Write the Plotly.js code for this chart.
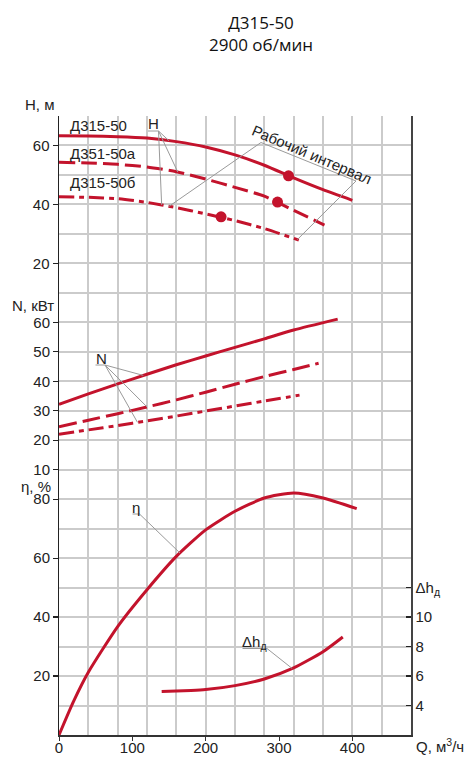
<!DOCTYPE html>
<html><head><meta charset="utf-8">
<script src="https://cdn.plot.ly/plotly-3.0.1.min.js"></script>
<style>html,body{margin:0;padding:0;background:#fff}#chart{width:472px;height:758px}</style>
</head><body><div id="chart"></div>
<script>
// ---------- DATA ----------
const curveNames = ['Д315-50', 'Д351-50а', 'Д315-50б'];

const qH1 = [0, 40, 80, 120, 160, 200, 240, 280, 320, 360, 400];
const headH1 = [63.3, 63.2, 63.0, 62.5, 61.3, 59.5, 56.8, 53.3, 49.0, 45.0, 41.4];
const qH2 = [0, 40, 80, 120, 160, 200, 240, 280, 320, 362];
const headH2 = [54.3, 54.05, 53.6, 52.7, 51.1, 48.6, 45.8, 42.8, 38.0, 33.0];
const qH3 = [0, 40, 80, 120, 160, 200, 240, 280, 327];
const headH3 = [42.6, 42.4, 41.95, 40.7, 38.9, 36.8, 34.5, 31.8, 27.9];

const nominalQ = [313, 298, 221];
const nominalH = [49.7, 40.8, 35.8];

const qN1 = [0, 40, 80, 120, 160, 200, 240, 280, 320, 380];
const powerN1 = [32.2, 35.7, 39.1, 42.4, 45.6, 48.6, 51.5, 54.4, 57.4, 61.1];
const qN2 = [0, 40, 80, 120, 160, 200, 240, 280, 320, 354];
const powerN2 = [24.6, 26.8, 29.0, 31.3, 33.7, 36.3, 39.0, 41.6, 44.0, 46.1];
const qN3 = [0, 40, 80, 120, 160, 200, 240, 280, 328];
const powerN3 = [22.0, 23.5, 25.0, 26.6, 28.2, 29.9, 31.6, 33.3, 35.3];

const qEta = [0, 20, 40, 80, 120, 160, 200, 240, 280, 320, 360, 406];
const eta = [0, 11.5, 21.3, 36.8, 49.3, 60.6, 69.6, 75.9, 80.4, 82.1, 80.4, 76.8];

const qDh = [140, 180, 200, 240, 280, 320, 360, 387];
const dh = [4.95, 5.02, 5.08, 5.35, 5.8, 6.55, 7.65, 8.65];

const xTicks = [0, 100, 200, 300, 400];
const hTicks = [20, 40, 60];
const nTicks = [10, 20, 30, 40, 50, 60];
const etaTicks = [20, 40, 60, 80];
const dhTicks = [4, 6, 8, 10, 12];
const dhTickText = ['4', '6', '8', '10', 'Δh<sub>д</sub>'];
const gridQ = [0, 40, 80, 120, 160, 200, 240, 280, 320, 360, 400, 440, 480];
const gridRows = [0, 1, 2, 3, 4, 5, 6, 7, 8, 9, 10, 11, 12, 13, 14, 15, 16, 17, 18, 19, 20, 21];

// ---------- LAYOUT GEOMETRY ----------
const L = 59, R = 411, T = 116, B = 735;
const W = R - L, HH = B - T;
const xRange = [0, 480];
const gridRange = [0, 21];
const hRange = [-140, 70];
const nRange = [-80, 130];
const etaRange = [0, 210];
const dhRange = [2, 44];

const red = '#c3132c';
const gridColor = '#cbcbcb';
const leaderColor = '#9a9a9a';
const FONT = '"Liberation Sans", Arial, sans-serif';

const fx = px => (px - L) / W;
const fy = py => (B - py) / HH;
const qP = q => (q - xRange[0]) / (xRange[1] - xRange[0]);
const vP = (v, r) => (v - r[0]) / (r[1] - r[0]);
function interp(q, xs, ys) {
  for (let i = 0; i < xs.length - 1; i++) {
    if (q >= xs[i] && q <= xs[i + 1]) {
      const t = (q - xs[i]) / (xs[i + 1] - xs[i]);
      return ys[i] + t * (ys[i + 1] - ys[i]);
    }
  }
  return ys[ys.length - 1];
}

const dashA = '16px,6px';
const dashB = '15px,5px,5px,5px';

function line(x, y, yaxis, dash) {
  return {x, y, yaxis, xaxis: 'x', type: 'scatter', mode: 'lines',
    line: {color: red, width: 3, shape: 'spline', smoothing: 0.6, dash: dash || 'solid'},
    hoverinfo: 'skip', showlegend: false};
}
function ghost(xa, ya, xs, ys) {
  return {x: xs, y: ys, xaxis: xa, yaxis: ya, type: 'scatter', mode: 'markers',
    marker: {size: 1, opacity: 0}, hoverinfo: 'skip', showlegend: false};
}

const traces = [
  ghost('x', 'y', xRange, gridRange),
  ghost('x2', 'y', xRange, gridRange),
  line(qH1, headH1, 'y2'),
  line(qH2, headH2, 'y2', dashA),
  line(qH3, headH3, 'y2', dashB),
  {x: nominalQ, y: nominalH, xaxis: 'x', yaxis: 'y2', type: 'scatter', mode: 'markers',
    marker: {color: red, size: 11}, hoverinfo: 'skip', showlegend: false},
  line(qN1, powerN1, 'y3'),
  line(qN2, powerN2, 'y3', '18px,6px'),
  line(qN3, powerN3, 'y3', dashB),
  line(qEta, eta, 'y4'),
  line(qDh, dh, 'y5')
];

// ---------- ANNOTATIONS ----------
function txt(text, px, py, opts) {
  return Object.assign({text, x: fx(px), y: fy(py), xref: 'paper', yref: 'paper',
    showarrow: false, xanchor: 'center', yanchor: 'middle',
    font: {family: FONT, size: 15, color: '#222'}}, opts || {});
}
const annotations = [
  txt('H, м', 39, 105),
  txt('N, кВт', 33, 305),
  txt('η, %', 36, 486),
  txt('Q, м<sup>3</sup>/ч', 440, 745),
  txt(curveNames[0], 68, 125, {xanchor: 'left'}),
  txt(curveNames[1], 68, 153, {xanchor: 'left'}),
  txt(curveNames[2], 68, 183, {xanchor: 'left'}),
  txt('H', 153, 123),
  txt('N', 101, 358),
  txt('η', 136, 507),
  txt('Δh<sub>д</sub>', 255, 642),
  txt('Рабочий интервал', 312, 154, {textangle: 23})
];

// ---------- SHAPES (leaders, underlines, bracket) ----------
function seg(x0, y0, x1, y1) {
  return {type: 'line', xref: 'paper', yref: 'paper', x0, y0, x1, y1,
    line: {color: leaderColor, width: 1}};
}
function leader(px, py, q, xs, ys, r) {
  return seg(fx(px), fy(py), qP(q), vP(interp(q, xs, ys), r));
}
const shapes = [
  seg(fx(148), fy(131), fx(158.5), fy(131)),
  leader(158.5, 131, 150, qH1, headH1, hRange),
  leader(158.5, 131, 162, qH2, headH2, hRange),
  leader(158.5, 131, 140, qH3, headH3, hRange),
  seg(fx(95.5), fy(365), fx(105), fy(365)),
  leader(105, 365, 115, qN1, powerN1, nRange),
  leader(105, 365, 120, qN2, powerN2, nRange),
  leader(105, 365, 107, qN3, powerN3, nRange),
  seg(fx(132.5), fy(514), fx(139.5), fy(514)),
  leader(139.5, 514, 165, qEta, eta, etaRange),
  seg(fx(242.5), fy(648.5), fx(267), fy(648.5)),
  leader(267, 648.5, 318, qDh, dh, dhRange),
  seg(fx(261), fy(142.5), fx(356), fy(181)),
  leader(261, 142.5, 150, qH3, headH3, hRange),
  leader(356, 181, 325, qH3, headH3, hRange)
];

const baseY = {showgrid: false, zeroline: false, fixedrange: true, ticks: 'outside', ticklen: 5,
  tickcolor: '#222', tickwidth: 1.2, overlaying: 'y', side: 'left', tickmode: 'array',
  tickfont: {family: FONT, size: 15, color: '#222'}};

const layout = {
  width: 472, height: 758,
  margin: {l: L, r: 472 - R, t: T, b: 758 - B, pad: 0},
  paper_bgcolor: '#fff', plot_bgcolor: '#fff',
  font: {family: FONT, size: 15, color: '#222'},
  showlegend: false,
  title: {text: 'Д315-50<br>2900 об/мин', font: {family: '"Open Sans", sans-serif', size: 17, color: '#111'},
    xref: 'container', x: 261 / 472, xanchor: 'center', yref: 'container', y: 1 - 29 / 758, yanchor: 'top'},
  xaxis: {range: xRange, tickmode: 'array', tickvals: xTicks, showgrid: false, zeroline: false,
    showline: true, linecolor: '#333', linewidth: 1.5, ticks: 'outside', ticklen: 4, tickcolor: '#333',
    ticklabelstandoff: -6,
    tickfont: {family: FONT, size: 15, color: '#222'}, fixedrange: true},
  xaxis2: {overlaying: 'x', range: xRange, tickmode: 'array', tickvals: gridQ, showgrid: true, gridcolor: gridColor,
    gridwidth: 2, showticklabels: false, ticks: '', zeroline: false, showline: false, fixedrange: true},
  yaxis: {range: gridRange, tickmode: 'array', tickvals: gridRows, showgrid: true, gridcolor: gridColor, gridwidth: 2,
    showticklabels: false, ticks: '', zeroline: false, showline: false, fixedrange: true},
  yaxis2: Object.assign({}, baseY, {range: hRange, tickvals: hTicks, showline: true, linecolor: '#222', linewidth: 1.5}),
  yaxis3: Object.assign({}, baseY, {range: nRange, tickvals: nTicks}),
  yaxis4: Object.assign({}, baseY, {range: etaRange, tickvals: etaTicks}),
  yaxis5: Object.assign({}, baseY, {range: dhRange, tickvals: dhTicks, ticktext: dhTickText, side: 'right',
    ticks: 'inside', showline: true, linecolor: '#444', linewidth: 1.5}),
  annotations, shapes
};

Plotly.newPlot('chart', traces, layout, {displayModeBar: false, staticPlot: true});
</script>
</body></html>
